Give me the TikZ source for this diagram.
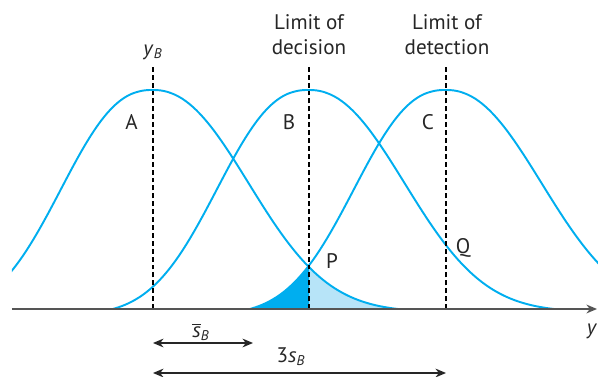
\documentclass[tikz,border=0pt]{standalone}
\usepackage{fontspec}
\setmainfont{PT Sans}
\usepackage{tikz}
\usetikzlibrary{arrows.meta,positioning}
\definecolor{bellblue}{RGB}{0,174,239}
\definecolor{paleblue}{RGB}{183,228,248}
\definecolor{axisgray}{RGB}{85,85,85}

\begin{document}
\begin{tikzpicture}[>={Stealth[length=6pt,width=5pt]},
    declare function={bellL(\x)=4.38*(exp(-(abs(\x)/2.31)^2.4)-0.0284)/0.9716;
                      bellR(\x)=4.38*(exp(-(abs(\x)/2.52)^2.2)-0.0133)/0.9867;},
    bell/.style={draw=bellblue,line width=1.1pt},
    guide/.style={black,line width=0.6pt,dash pattern=on 2.8pt off 1.7pt},
    dim/.style={<->,black!85,line width=0.8pt},
    lbl/.style={inner sep=0pt,text=black!85,font=\fontsize{12}{14.7}\selectfont}]
    \useasboundingbox (-3.06,-1.36) rectangle (8.9,6.18);
    \coordinate (o_A) at (0,0);
    \coordinate (o_B) at (3.12,0);
    \coordinate (o_C) at (5.86,0);
    \coordinate (top) at (0,4.88);
    % shaded tails either side of the limit of decision
    \fill[paleblue] (o_B) -- plot[domain=3.12:4.9,samples=30] (\x,{bellR(\x)}) -- cycle;
    \fill[bellblue] plot[domain=-3.92:-2.74,samples=20] ({5.86+\x},{bellL(\x)}) -- (o_B) -- cycle;
    % the three distributions
    \begin{scope}
      \clip (-2.82,-0.1) rectangle (8.9,5);
      \foreach \p in {0,3.12,5.86}
        \draw[bell,xshift=\p cm] plot[domain=-3.92:-0.01,samples=70] (\x,{bellL(\x)})
          -- plot[domain=0.01:4.9,samples=70] (\x,{bellR(\x)});
    \end{scope}
    \foreach \n in {A,B,C}
      \draw[guide] (o_\n) -- (o_\n |- top);
    \coordinate (ax_l) at (-2.82,0);
    \coordinate (ax_r) at (8.88,0);
    \draw[->,axisgray,line width=1.1pt] (ax_l) -- (ax_r);
    \node[lbl,anchor=base] (y_B) at (0,5.07) {\textit{y}\textsubscript{\textit{B}}};
    \node[lbl,anchor=south,align=center] (lim_dec) at (3.12,5.07) {Limit of\\decision};
    \node[lbl,anchor=south,align=center] (lim_det) at (5.88,5.07) {Limit of\\detection};
    \node[lbl] (A) at (-0.43,3.74) {A};
    \node[lbl] (B) at (2.72,3.74) {B};
    \node[lbl] (C) at (5.5,3.74) {C};
    \node[lbl] (P) at (3.58,0.96) {P};
    \node[lbl] (Q) at (6.2,1.22) {Q};
    \node[lbl] (y) at (8.78,-0.44) {\textit{y}};
    % spreads below the axis
    \coordinate (s_l) at (0,-0.68);
    \coordinate (s_r) at (2.0,-0.68);
    \coordinate (t_l) at (0,-1.28);
    \coordinate (t_r) at (5.86,-1.28);
    \draw[dim] (s_l) -- (s_r);
    \draw[dim] (t_l) -- (t_r);
    \node[lbl] (sbar) at (0.96,-0.46) {$\overline{\mbox{\textit{s}}}$\textsubscript{\textit{B}}};
    \node[lbl] (three_s) at (2.76,-0.96) {3\textit{s}\textsubscript{\textit{B}}};
\end{tikzpicture}
\end{document}
